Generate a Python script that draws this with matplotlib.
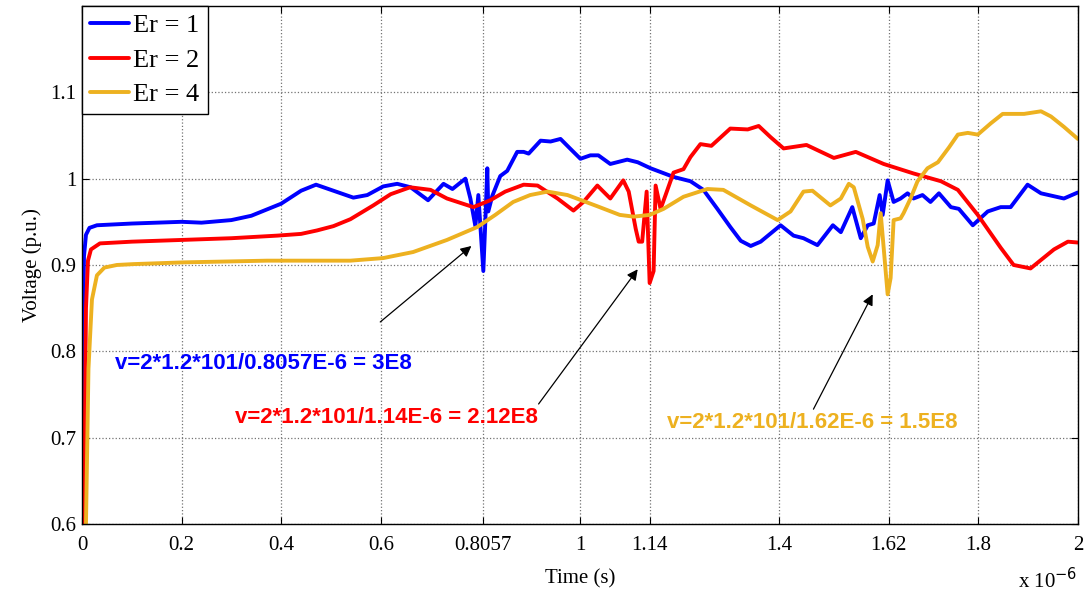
import matplotlib.pyplot as plt
import numpy as np

# time in microseconds, voltage in p.u.
T_ER1 = [0.0, 0.002, 0.004, 0.008, 0.015, 0.03, 0.1, 0.2, 0.24, 0.30, 0.34, 0.37, 0.40, 0.44,
         0.47, 0.505, 0.545, 0.573, 0.605, 0.633, 0.66, 0.695, 0.726, 0.744, 0.77, 0.78, 0.79,
         0.796, 0.806, 0.81, 0.814, 0.816, 0.824, 0.84, 0.854, 0.874, 0.887, 0.897, 0.921, 0.941,
         0.961, 0.98, 1.001, 1.021, 1.037, 1.061, 1.095, 1.116, 1.142, 1.188, 1.222, 1.248, 1.276,
         1.302, 1.323, 1.343, 1.363, 1.403, 1.429, 1.449, 1.477, 1.508, 1.524, 1.547, 1.564, 1.578,
         1.59, 1.602, 1.608, 1.618, 1.630, 1.644, 1.658, 1.670, 1.688, 1.704, 1.721, 1.745, 1.761,
         1.789, 1.819, 1.845, 1.865, 1.899, 1.926, 1.972, 2.0]
V_ER1 = [0.60, 0.80, 0.91, 0.935, 0.943, 0.946, 0.948, 0.95, 0.949, 0.952, 0.957, 0.964, 0.971, 0.986,
         0.993, 0.986, 0.978, 0.981, 0.991, 0.994, 0.99, 0.975, 0.994, 0.988, 1.0, 0.977, 0.945,
         0.981, 0.893, 0.95, 1.012, 0.962, 0.98, 1.003, 1.009, 1.031, 1.031, 1.029, 1.044, 1.043,
         1.046, 1.035, 1.023, 1.027, 1.027, 1.017, 1.022, 1.019, 1.012, 1.002, 0.997, 0.987, 0.965,
         0.944, 0.928, 0.922, 0.927, 0.946, 0.934, 0.931, 0.923, 0.946, 0.938, 0.967, 0.931, 0.946,
         0.948, 0.981, 0.958, 0.998, 0.973, 0.977, 0.983, 0.977, 0.981, 0.973, 0.983, 0.967, 0.965,
         0.946, 0.962, 0.967, 0.967, 0.993, 0.983, 0.977, 0.984]

T_ER2 = [0.004, 0.008, 0.012, 0.018, 0.036, 0.1, 0.2, 0.3, 0.392, 0.44, 0.472, 0.505, 0.539, 0.585,
         0.62, 0.659, 0.70, 0.733, 0.786, 0.82, 0.85, 0.887, 0.915, 0.955, 0.987, 1.007, 1.035,
         1.061, 1.087, 1.098, 1.112, 1.118, 1.125, 1.134, 1.140, 1.148, 1.152, 1.162, 1.172, 1.188,
         1.208, 1.222, 1.242, 1.264, 1.302, 1.337, 1.359, 1.383, 1.409, 1.455, 1.51, 1.554, 1.61,
         1.67, 1.725, 1.759, 1.799, 1.845, 1.871, 1.905, 1.952, 1.98, 2.0]
V_ER2 = [0.60, 0.85, 0.905, 0.918, 0.925, 0.927, 0.929, 0.931, 0.934, 0.936, 0.94, 0.945, 0.953, 0.969,
         0.982, 0.99, 0.987, 0.977, 0.967, 0.975, 0.985, 0.993, 0.992, 0.977, 0.963, 0.973, 0.992,
         0.977, 0.998, 0.985, 0.942, 0.927, 0.927, 0.985, 0.879, 0.893, 0.992, 0.965, 0.981, 1.007,
         1.011, 1.025, 1.04, 1.038, 1.058, 1.057, 1.061, 1.048, 1.035, 1.039, 1.024, 1.031, 1.017,
         1.006, 0.997, 0.987, 0.958, 0.920, 0.90, 0.896, 0.918, 0.927, 0.926]

T_ER4 = [0.008, 0.013, 0.02, 0.03, 0.045, 0.07, 0.103, 0.203, 0.372, 0.539, 0.605, 0.665, 0.733,
         0.794, 0.83, 0.866, 0.9, 0.935, 0.975, 1.035, 1.08, 1.108, 1.14, 1.168, 1.208, 1.256,
         1.288, 1.343, 1.397, 1.423, 1.449, 1.467, 1.503, 1.524, 1.540, 1.55, 1.568, 1.578, 1.588,
         1.598, 1.604, 1.610, 1.618, 1.624, 1.630, 1.644, 1.650, 1.664, 1.678, 1.698, 1.719, 1.741,
         1.759, 1.779, 1.799, 1.825, 1.849, 1.892, 1.926, 1.946, 1.972, 2.0]
V_ER4 = [0.60, 0.78, 0.86, 0.888, 0.897, 0.9, 0.901, 0.903, 0.905, 0.905, 0.908, 0.915, 0.929,
         0.944, 0.958, 0.973, 0.981, 0.985, 0.981, 0.968, 0.958, 0.956, 0.958, 0.965, 0.979, 0.988,
         0.987, 0.969, 0.952, 0.962, 0.985, 0.986, 0.969, 0.977, 0.994, 0.99, 0.953, 0.921, 0.904,
         0.923, 0.96, 0.92, 0.866, 0.885, 0.952, 0.954, 0.96, 0.977, 0.997, 1.012, 1.019, 1.036,
         1.051, 1.053, 1.051, 1.064, 1.075, 1.075, 1.078, 1.072, 1.06, 1.046]

SERIES = [("Er = 1", T_ER1, V_ER1, "#0000FF"),
          ("Er = 2", T_ER2, V_ER2, "#FF0000"),
          ("Er = 4", T_ER4, V_ER4, "#EDB120")]

X_TICKS = [0, 0.2, 0.4, 0.6, 0.8057, 1, 1.14, 1.4, 1.62, 1.8, 2]
X_TICK_LABELS = ["0", "0.2", "0.4", "0.6", "0.8057", "1", "1.14", "1.4", "1.62", "1.8", "2"]
Y_TICKS = [0.6, 0.7, 0.8, 0.9, 1.0, 1.1]
Y_TICK_LABELS = ["0.6", "0.7", "0.8", "0.9", "1", "1.1"]

# (text, text right end x / centre y, arrow tip x/y, arrow tail x/y, colour)
NOTES = [
    ("v=2*1.2*101/0.8057E-6 = 3E8", (0.663, 0.786), (0.782, 0.922), (0.599, 0.834), "#0000FF"),
    ("v=2*1.2*101/1.14E-6 = 2.12E8", (0.915, 0.723), (1.116, 0.895), (0.917, 0.739), "#FF0000"),
    ("v=2*1.2*101/1.62E-6 = 1.5E8", (1.759, 0.717), (1.588, 0.866), (1.469, 0.733), "#EDB120"),
]

SERIF = "Liberation Serif"

fig = plt.figure(figsize=(10.86, 5.97), dpi=100)
ax = fig.add_axes([0.0755, 0.1223, 0.917, 0.8677])

for label, t, v, color in SERIES:
    ax.plot(np.array(t) * 1e-6, v, color=color, lw=2.8, label=label,
            solid_joinstyle="round", solid_capstyle="round")

for text, (tx, ty), (hx, hy), (ax0, ay0), color in NOTES:
    ax.annotate("", xy=(hx * 1e-6, hy), xytext=(ax0 * 1e-6, ay0),
                arrowprops=dict(arrowstyle="-|>", color="black", lw=0.9,
                                mutation_scale=16, shrinkA=0, shrinkB=0))
    ax.text(tx * 1e-6, ty, text, color=color, fontsize=16, fontweight="bold",
            family="Liberation Sans", ha="right", va="center")

ax.set_xlim(0, 2e-6)
ax.set_ylim(0.6, 1.2)
ax.set_xticks(np.array(X_TICKS) * 1e-6)
ax.set_xticklabels(X_TICK_LABELS)
ax.set_yticks(Y_TICKS)
ax.set_yticklabels(Y_TICK_LABELS)
ax.tick_params(direction="in", length=5, width=0.8, top=True, right=True, labelsize=15)
ax.tick_params(axis="x", pad=9)
ax.tick_params(axis="y", pad=4)
for lab in ax.get_xticklabels() + ax.get_yticklabels():
    lab.set_family(SERIF)
ax.grid(True, color="0.45", linestyle=":", lw=0.9)
for sp in ax.spines.values():
    sp.set_linewidth(1.0)
    sp.set_color("black")

ax.set_xlabel("Time (s)", family=SERIF, fontsize=15, labelpad=10)
ax.set_ylabel("Voltage (p.u.)", family=SERIF, fontsize=15, labelpad=6)
ax.text(1.0, -0.085, r"x 10$^{-6}$", transform=ax.transAxes, ha="right", va="top",
        family=SERIF, fontsize=15)

leg = ax.legend(loc="upper left", borderaxespad=0, fancybox=False, framealpha=1,
                edgecolor="black", prop={"family": SERIF, "size": 19},
                handlelength=1.5, handletextpad=0.15, labelspacing=0.42,
                borderpad=0.3)
leg.get_frame().set_linewidth(1.0)

fig.savefig("out.png", dpi=100)
